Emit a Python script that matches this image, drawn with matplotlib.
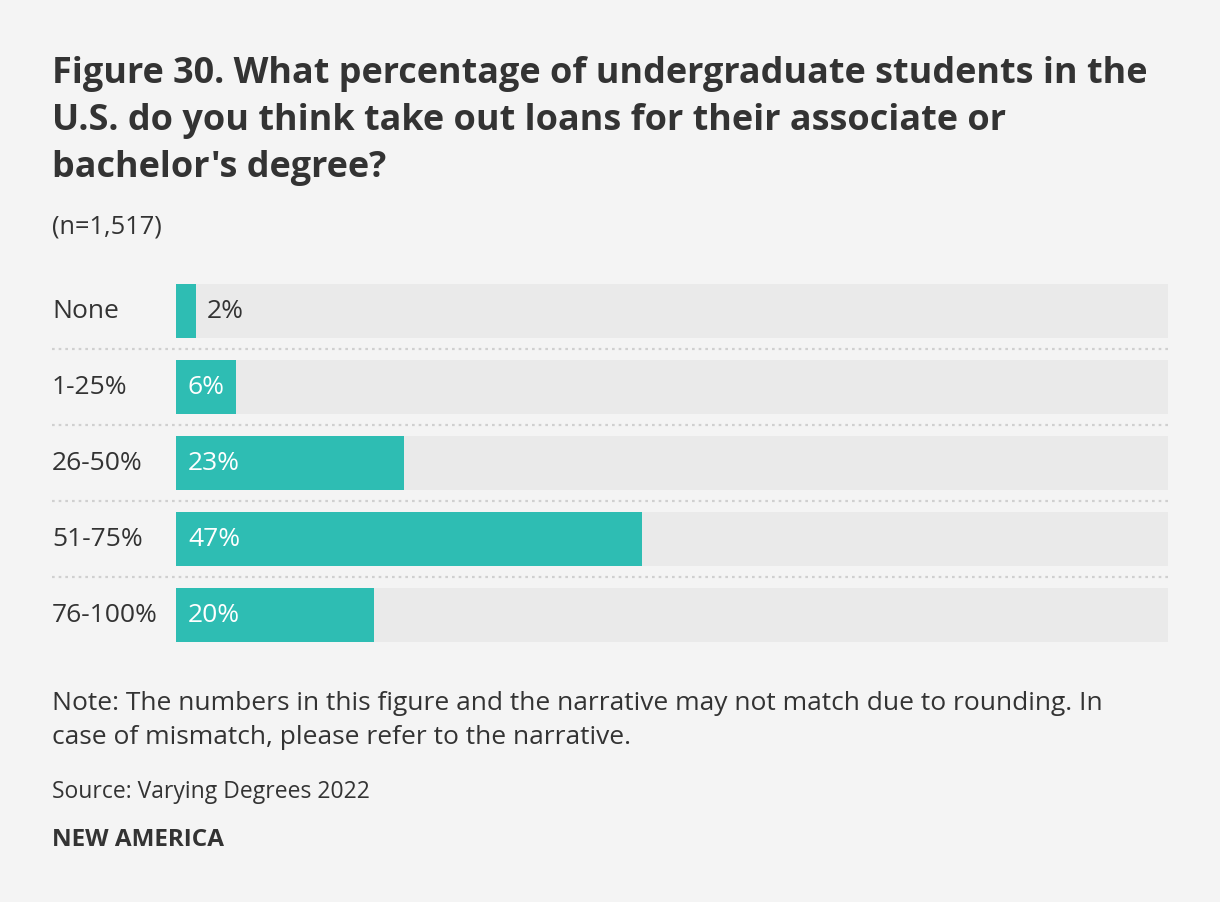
import matplotlib
matplotlib.use("Agg")
import matplotlib.pyplot as plt

# ------------------------------------------------------------
# DATA
# ------------------------------------------------------------
categories = ["None", "1-25%", "26-50%", "51-75%", "76-100%"]
values = [2, 6, 23, 47, 20]
value_labels = ["2%", "6%", "23%", "47%", "20%"]

TITLE = ("Figure 30. What percentage of undergraduate students in the\n"
         "U.S. do you think take out loans for their associate or\n"
         "bachelor's degree?")
SUBTITLE = "(n=1,517)"
NOTE = ("Note: The numbers in this figure and the narrative may not match due to rounding. In\n"
        "case of mismatch, please refer to the narrative.")
SOURCE = "Source: Varying Degrees 2022"
BRAND = "NEW AMERICA"

# ------------------------------------------------------------
# STYLE
# ------------------------------------------------------------
BG = "#f4f4f4"
TRACK = "#eaeaea"
BAR = "#2ebdb3"
TEXT = "#333333"
SEP = "#d0d0d0"
W, H = 1220, 902
FS_LABEL = 19
plt.rcParams["font.family"] = ["Open Sans", "DejaVu Sans"]

fig = plt.figure(figsize=(W / 100, H / 100), dpi=100, facecolor=BG)

def px(x, y):
    # pixel coords (top-left origin) -> figure fraction
    return x / W, 1 - y / H

# bar area: x 176..1168, y 273..653
ax_left, ax_right, ax_top, ax_bot = 176, 1168, 273, 653
ax = fig.add_axes([ax_left / W, 1 - ax_bot / H, (ax_right - ax_left) / W, (ax_bot - ax_top) / H])
ax.set_facecolor(BG)
ax.set_xlim(0, 100)
ax.set_ylim(len(categories) - 0.5, -0.5)
ax.axis("off")

ypos = list(range(len(categories)))
ax.barh(ypos, [100] * len(categories), height=0.7, color=TRACK, left=0)
ax.barh(ypos, values, height=0.7, color=BAR, left=0)

x_lab = (52 - ax_left) / (ax_right - ax_left) * 100
for i, (cat, v, lab) in enumerate(zip(categories, values, value_labels)):
    ax.text(x_lab, i, cat, ha="left", va="center", fontsize=FS_LABEL, color=TEXT, clip_on=False)
    if v < 4:
        ax.text(v + 1.1, i, lab, ha="left", va="center", fontsize=FS_LABEL, color=TEXT)
    else:
        ax.text(1.2, i, lab, ha="left", va="center", fontsize=FS_LABEL, color="white")

# dotted separators between rows
for i in range(len(categories) - 1):
    ax.plot([x_lab, 100], [i + 0.5, i + 0.5], color=SEP, lw=1.6,
            linestyle=(0, (1.2, 1.8)), clip_on=False, solid_capstyle="butt")

# ------------------------------------------------------------
# TEXT
# ------------------------------------------------------------
for line, base in zip(TITLE.split("\n"), [83, 130, 177]):
    fig.text(*px(52, base), line, ha="left", va="baseline", fontsize=25.9,
             fontweight="bold", color=TEXT)
fig.text(*px(52, 233), SUBTITLE, ha="left", va="baseline", fontsize=18.3, color=TEXT)
for line, base in zip(NOTE.split("\n"), [710, 744]):
    fig.text(*px(52, base), line, ha="left", va="baseline", fontsize=19, color=TEXT)
fig.text(*px(52, 798), SOURCE, ha="left", va="baseline", fontsize=16.5, color=TEXT)
fig.text(*px(52, 846), BRAND, ha="left", va="baseline", fontsize=17.5, fontweight="bold", color=TEXT)

fig.savefig("out.png", dpi=100, facecolor=BG)
